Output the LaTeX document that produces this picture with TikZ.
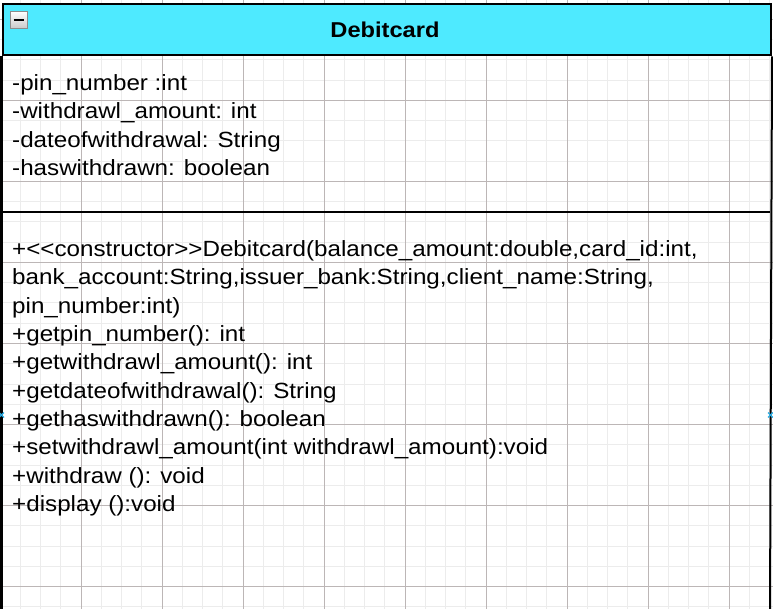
\documentclass[tikz,border=0pt]{standalone}
\usepackage{fontspec}
\setmainfont{Liberation Sans}[FakeStretch=1.1]
\definecolor{hdr}{RGB}{78,234,255}
\definecolor{gminor}{RGB}{236,236,236}
\definecolor{gmajor}{RGB}{188,182,182}
\definecolor{hint}{RGB}{41,171,226}
\begin{document}
\begin{tikzpicture}[x=1pt,y=-1pt,
  txt/.style={anchor=base west,inner sep=0pt,font=\fontsize{22}{28}\selectfont},
  boxline/.style={line width=2pt,draw=black}]
\useasboundingbox (0,0) rectangle (773,609);
\fill[white] (0,0) rectangle (773,609);
% grid
\foreach \i in {1,...,38} {\draw[gminor,line width=1pt] (\i*20.25,0) -- (\i*20.25,609);}
\foreach \j in {0,...,30} {\draw[gminor,line width=1pt] (0,-0.75+\j*20.25) -- (773,-0.75+\j*20.25);}
\foreach \i in {1,...,9} {\draw[gmajor,line width=1pt] (\i*81,0) -- (\i*81,609);}
\foreach \j in {0,...,7} {\draw[gmajor,line width=1pt] (0,19.5+\j*81) -- (773,19.5+\j*81);}
% class box
\coordinate (bl) at (1.5,615);
\coordinate (br) at (770,615);
\coordinate (sl) at (1.5,212.5);
\coordinate (sr) at (770,212.5);
\node[boxline,fill=hdr,minimum width=768.5pt,minimum height=51pt,anchor=north west,inner sep=0pt] (header) at (1.5,3.5) {};
\node[anchor=base,inner sep=0pt,font=\fontsize{21.5}{28}\selectfont\bfseries] (title) at (385,37.3) {Debitcard};
\draw[line width=2.6pt] (header.south west) -- (bl);
\draw[boxline] (header.south east) -- (br);
\draw[boxline] (sl) -- (sr);
% collapse icon
\node[draw={rgb,255:red,140;green,140;blue,140},line width=1.2pt,top color=white,bottom color={rgb,255:red,200;green,200;blue,200},minimum width=17pt,minimum height=17pt,inner sep=0pt,anchor=north west] (icon) at (9.5,11) {};
\draw[line width=2.2pt] ([xshift=-5pt]icon.center) -- ([xshift=5pt]icon.center);
% attributes
\node[txt] (a1) at (12,90.7) {-pin\_number :int};
\node[txt] (a2) at (12,119) {-withdrawl\_amount: int};
\node[txt] (a3) at (12,147.3) {-dateofwithdrawal: String};
\node[txt] (a4) at (12,175.6) {-haswithdrawn: boolean};
% methods
\node[txt] (m1) at (12,256.7) {+<\kern0pt<constructor>\kern0pt>Debitcard(balance\_amount:double,card\_id:int,};
\node[txt] (m2) at (12,285) {bank\_account:String,issuer\_bank:String,client\_name:String,};
\node[txt] (m3) at (12,313.3) {pin\_number:int)};
\node[txt] (m4) at (12,341.6) {+getpin\_number(): int};
\node[txt] (m5) at (12,369.9) {+getwithdrawl\_amount(): int};
\node[txt] (m6) at (12,398.2) {+getdateofwithdrawal(): String};
\node[txt] (m7) at (12,426.5) {+gethaswithdrawn(): boolean};
\node[txt] (m8) at (12,454.8) {+setwithdrawl\_amount(int withdrawl\_amount):void};
\node[txt] (m9) at (12,483.1) {+withdraw (): void};
\node[txt] (m10) at (12,511.4) {+display ():void};
% connection hints
\coordinate (hl) at (1.5,415);
\coordinate (hr) at (770.5,415);
\draw[hint,line width=1.2pt] ([shift={(-2.5,-2.5)}]hl) -- ([shift={(2.5,2.5)}]hl) ([shift={(-2.5,2.5)}]hl) -- ([shift={(2.5,-2.5)}]hl);
\draw[hint,line width=1.2pt] ([shift={(-2.5,-2.5)}]hr) -- ([shift={(2.5,2.5)}]hr) ([shift={(-2.5,2.5)}]hr) -- ([shift={(2.5,-2.5)}]hr);
\end{tikzpicture}
\end{document}
